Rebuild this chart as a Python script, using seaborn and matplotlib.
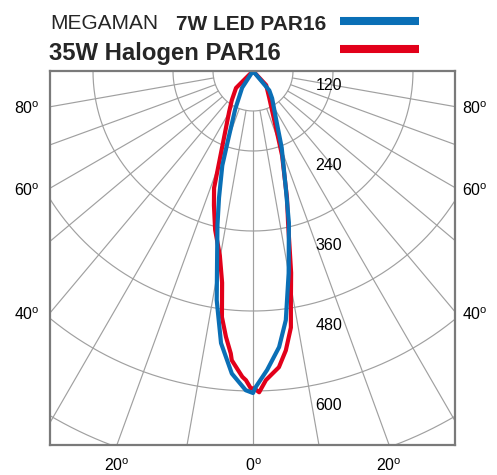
import numpy as np
import pandas as pd
import matplotlib
matplotlib.use("Agg")
import matplotlib.pyplot as plt
import seaborn as sns
from matplotlib.lines import Line2D

# Luminous intensity (cd) against angle from the beam axis (deg, negative = left side)
led_angle = [-90, -33, -25, -20, -18, -15, -13, -10.5, -9, -6.7, -4, -1.3, 0,
             0.5, 2.7, 5.4, 7.5, 10, 13.3, 15.5, 20.5, 26, 35, 40, 90]
led_cd = [0, 30, 63, 108, 149, 197, 237, 296, 348, 411, 455, 479, 483,
          474, 449, 416, 377, 308, 234, 185, 123, 78, 50, 38, 0]

halogen_angle = [-90, -45, -36, -30.3, -21.9, -18.4, -16.2, -13.4, -10.2, -8.3, -7.2,
                 -5.8, -4.5, -4.2, -2, -1.3, -0.4, 0.2, 1.1, 2.4, 5, 6.7, 8.4, 9.4,
                 10.7, 13, 15, 19, 22, 31.6, 43, 90]
halogen_cd = [0, 36, 54, 71, 125, 185, 210, 245, 281, 321, 372,
              401, 425, 435, 459, 464, 476, 476, 482, 464, 446, 422, 389, 348,
              308, 234, 197, 134, 92, 46, 29, 0]

series_names = ["7W LED PAR16", "35W Halogen PAR16"]
series_colors = ["#0a6fb6", "#e2001a"]

ring_values = [60, 120, 240, 360, 480, 600]
ring_labels = [120, 240, 360, 480, 600]
spoke_angles = list(range(-80, 90, 10))
side_labels = [80, 60, 40]
bottom_labels = [-20, 0, 20]

sns.set_style("white")
plt.rcParams["font.family"] = ["Liberation Sans", "DejaVu Sans"]
plt.rcParams["mathtext.fontset"] = "custom"
plt.rcParams["mathtext.rm"] = "Liberation Sans"
plt.rcParams["mathtext.it"] = "Liberation Sans"


def to_xy(angle, cd):
    a = np.radians(np.asarray(angle, dtype=float))
    r = np.asarray(cd, dtype=float)
    return r * np.sin(a), r * np.cos(a)


frames = []
for name, ang, cd in [(series_names[1], halogen_angle, halogen_cd),
                      (series_names[0], led_angle, led_cd)]:
    x, y = to_xy(ang, cd)
    frames.append(pd.DataFrame({"x": x, "y": y, "lamp": name}))
curves = pd.concat(frames, ignore_index=True)

W, H = 497, 475
fig = plt.figure(figsize=(W / 100, H / 100), dpi=100)
ax = fig.add_axes([50 / W, 1 - 445 / H, 405 / W, 374 / H])

XMIN, XMAX, YMAX = -304.5, 303.0, 561.0
ax.set_xlim(XMIN, XMAX)
ax.set_ylim(YMAX, 0)
ax.set_xticks([])
ax.set_yticks([])

grid_kw = dict(color="#a0a0a0", lw=0.85, zorder=1)
# concentric intensity rings
t = np.radians(np.linspace(-90, 90, 721))
for r in ring_values:
    ax.plot(r * np.sin(t), r * np.cos(t), **grid_kw)
# angle spokes starting at the innermost ring
for a in spoke_angles:
    ar = np.radians(a)
    rr = np.array([ring_values[0], 1200])
    ax.plot(rr * np.sin(ar), rr * np.cos(ar), **grid_kw)

sns.lineplot(data=curves, x="x", y="y", hue="lamp",
             sort=False, estimator=None,
             hue_order=[series_names[1], series_names[0]],
             palette={series_names[0]: series_colors[0], series_names[1]: series_colors[1]},
             linewidth=3.0, legend=False, ax=ax, zorder=3)
ax.set_xlabel("")
ax.set_ylabel("")

for s in ax.spines.values():
    s.set_color("#7a7a7a")
    s.set_linewidth(1.6)
    s.set_zorder(5)

lab_kw = dict(fontsize=11.5, color="black", clip_on=False)
for v in ring_labels:
    ax.text(114, v - 98, str(v), ha="center", va="center", **lab_kw)

for a in side_labels:
    y = -XMIN / np.tan(np.radians(a))
    txt = f"{a}$^{{\\mathrm{{o}}}}$"
    ax.text(XMIN - 15, y + 3, txt, ha="right", va="center", **lab_kw)
    ax.text(XMAX + 10, y + 3, txt, ha="left", va="center", **lab_kw)

for a in bottom_labels:
    x = YMAX * np.tan(np.radians(a))
    ax.text(x, YMAX + 31, f"{abs(a)}$^{{\\mathrm{{o}}}}$", ha="center", va="center", **lab_kw)

# header with lamp names and colour keys
fig.text(50 / W, 1 - 29 / H, "MEGAMAN", fontsize=15, fontweight="normal",
         va="baseline", ha="left")
fig.text(176 / W, 1 - 30 / H, series_names[0], fontsize=15, fontweight="bold",
         va="baseline", ha="left")
fig.text(49 / W, 1 - 60 / H, series_names[1], fontsize=17.2, fontweight="bold",
         va="baseline", ha="left")
for yk, col in [(20.7, series_colors[0]), (49.0, series_colors[1])]:
    fig.add_artist(Line2D([340 / W, 419 / W], [1 - yk / H, 1 - yk / H],
                          color=col, lw=5.8, solid_capstyle="butt",
                          transform=fig.transFigure))

fig.savefig("out.png", dpi=100, facecolor="white")
